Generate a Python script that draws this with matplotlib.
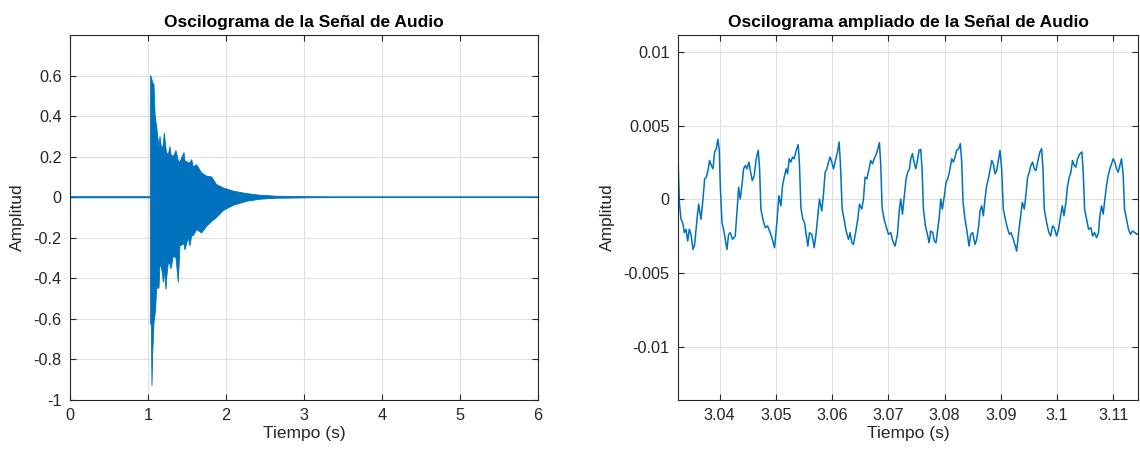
import numpy as np
import matplotlib
matplotlib.use("Agg")
import matplotlib.pyplot as plt

plt.rcParams['font.family'] = ['Liberation Sans', 'DejaVu Sans']
plt.rcParams['axes.unicode_minus'] = False

# ---------------- data: full recording (envelope of waveform) ----------------
env_t = [0.0, 1.030, 1.034, 1.043, 1.051, 1.060, 1.077, 1.090, 1.098, 1.111, 1.124,
         1.141, 1.154, 1.175, 1.197, 1.209, 1.231, 1.239, 1.261, 1.282, 1.295,
         1.325, 1.359, 1.389, 1.410, 1.462, 1.474, 1.517, 1.538, 1.560, 1.581,
         1.624, 1.688, 1.752, 1.816, 1.880, 1.966, 2.094, 2.265, 2.436, 2.650,
         3.077, 3.291, 6.0]
env_upper = [0.003, 0.003, 0.60, 0.59, 0.58, 0.565, 0.556, 0.416, 0.38, 0.35, 0.30,
             0.25, 0.30, 0.235, 0.26, 0.317, 0.24, 0.22, 0.21, 0.25, 0.21,
             0.20, 0.23, 0.18, 0.175, 0.22, 0.18, 0.17, 0.17, 0.186, 0.15,
             0.16, 0.12, 0.104, 0.10, 0.062, 0.046, 0.03, 0.018, 0.01, 0.005,
             0.003, 0.002, 0.002]
env_lower = [-0.003, -0.003, -0.62, -0.637, -0.93, -0.776, -0.62, -0.58, -0.554, -0.44, -0.45,
             -0.447, -0.33, -0.35, -0.42, -0.36, -0.456, -0.40, -0.324, -0.33, -0.354,
             -0.29, -0.30, -0.42, -0.24, -0.23, -0.26, -0.20, -0.24, -0.19, -0.19,
             -0.16, -0.176, -0.143, -0.12, -0.10, -0.065, -0.04, -0.02, -0.01, -0.005,
             -0.003, -0.002, -0.002]

# ---------------- data: zoomed segment ----------------
zoom_t = [3.03260, 3.03284, 3.03313, 3.03343, 3.03373, 3.03402, 3.03432, 3.03461, 3.03491, 3.03526,
          3.03556, 3.03598, 3.03627, 3.03669, 3.03704, 3.03734, 3.03763, 3.03793, 3.03822, 3.03852,
          3.03882, 3.03911, 3.03941, 3.03970, 3.03994, 3.04012, 3.04042, 3.04071, 3.04101, 3.04130,
          3.04160, 3.04190, 3.04231, 3.04278, 3.04308, 3.04338, 3.04367, 3.04397, 3.04426, 3.04456,
          3.04486, 3.04521, 3.04551, 3.04580, 3.04616, 3.04651, 3.04687, 3.04711, 3.04734, 3.04770,
          3.04811, 3.04853, 3.04888, 3.04930, 3.04977, 3.05018, 3.05054, 3.05090, 3.05119, 3.05155,
          3.05184, 3.05208, 3.05238, 3.05267, 3.05297, 3.05326, 3.05362, 3.05397, 3.05421, 3.05445,
          3.05480, 3.05510, 3.05539, 3.05569, 3.05599, 3.05640, 3.05682, 3.05717, 3.05747, 3.05776,
          3.05818, 3.05847, 3.05877, 3.05907, 3.05936, 3.05966, 3.05995, 3.06025, 3.06060, 3.06096,
          3.06126, 3.06149, 3.06179, 3.06214, 3.06250, 3.06291, 3.06321, 3.06351, 3.06380, 3.06428,
          3.06457, 3.06487, 3.06528, 3.06558, 3.06587, 3.06617, 3.06658, 3.06688, 3.06718, 3.06747,
          3.06777, 3.06807, 3.06842, 3.06866, 3.06889, 3.06925, 3.06960, 3.07002, 3.07043, 3.07079,
          3.07120, 3.07162, 3.07197, 3.07221, 3.07251, 3.07286, 3.07316, 3.07345,
          3.07375, 3.07399, 3.07429, 3.07458, 3.07488, 3.07518, 3.07547, 3.07577, 3.07600, 3.07624,
          3.07660, 3.07695, 3.07725, 3.07754, 3.07790, 3.07819, 3.07849, 3.07879, 3.07908, 3.07932,
          3.07961, 3.07997, 3.08027, 3.08056, 3.08086, 3.08127, 3.08157, 3.08187, 3.08216, 3.08252,
          3.08281, 3.08305, 3.08329, 3.08364, 3.08394, 3.08435, 3.08465, 3.08500, 3.08542, 3.08571,
          3.08607, 3.08631, 3.08660, 3.08690, 3.08719, 3.08749, 3.08779, 3.08808, 3.08838, 3.08867,
          3.08897, 3.08927, 3.08956, 3.08986, 3.09015, 3.09045, 3.09081, 3.09116, 3.09152, 3.09181,
          3.09223, 3.09258, 3.09282, 3.09317, 3.09353, 3.09383, 3.09418, 3.09448, 3.09477, 3.09507,
          3.09536, 3.09566, 3.09596, 3.09625, 3.09661, 3.09696, 3.09726, 3.09750, 3.09773, 3.09815,
          3.09856, 3.09886, 3.09921, 3.09951, 3.09992, 3.10028, 3.10063, 3.10093, 3.10123, 3.10158,
          3.10188, 3.10217, 3.10247, 3.10276, 3.10306, 3.10336, 3.10365, 3.10407, 3.10442, 3.10466,
          3.10490, 3.10525, 3.10561, 3.10602, 3.10632, 3.10667, 3.10703, 3.10738, 3.10762, 3.10792,
          3.10821, 3.10851, 3.10880, 3.10910, 3.10940, 3.10969, 3.10999, 3.11028, 3.11058, 3.11088,
          3.11117, 3.11147, 3.11177, 3.11200, 3.11236, 3.11271, 3.11307, 3.11342, 3.11384, 3.11425,
          3.11461]
zoom_amp_mV = [2.877, -0.205, -1.347, -1.575, -2.260, -2.032, -2.831, -2.032, -2.374, -3.402,
               -3.059, -1.347, -0.320, -1.347, 0.023, 1.393, 1.507, 1.963, 2.648, 2.306,
               2.078, 3.219, 3.447, 4.087, 3.333, 0.936, -1.575, -2.032, -2.717, -3.402,
               -2.374, -2.260, -2.717, -2.489, -0.890, 0.822, 0.023, 0.936, 2.078, 2.306,
               2.078, 2.534, 1.849, 1.279, 1.621, 2.763, 3.333, 2.078, -0.662, -1.347,
               -1.918, -1.804, -2.146, -2.603, -3.288, -1.575, 0.251, -0.434, 0.936, 1.621,
               2.078, 1.735, 2.763, 2.534, 2.877, 2.763, 3.333, 3.721, 2.306, -0.548,
               -1.347, -1.575, -2.374, -3.174, -2.260, -2.374, -3.288, -2.260, -1.119, 0.023,
               -0.776, 0.365, 1.849, 2.078, 2.534, 2.877, 2.534, 2.078, 2.648, 3.219,
               3.904, 2.306, -0.662, -1.347, -2.146, -2.717, -2.260, -2.945, -3.059, -2.032,
               -1.347, -0.320, -0.662, 0.023, 1.507, 1.393, 2.078, 2.648, 2.420, 2.763,
               2.991, 3.333, 3.858, 2.306, -0.548, -1.347, -1.804, -2.374, -2.260, -2.831,
               -3.174, -2.374, -0.662, 0.023, -1.005, 0.251, 1.393, 1.849,
               2.078, 2.763, 3.105, 2.534, 2.078, 2.648, 3.333, 3.402, 2.078, -0.662,
               -1.804, -2.374, -2.945, -2.146, -2.260, -2.831, -2.945, -2.032, -1.119, 0.023,
               -0.662, 0.251, 1.164, 1.393, 1.849, 2.763, 2.534, 2.877, 3.333, 3.447,
               3.790, 2.534, -0.205, -1.347, -2.032, -3.174, -2.374, -2.260, -3.059, -2.717,
               -1.804, -0.776, -0.434, -1.119, 0.023, 0.936, 1.393, 1.963, 2.648, 2.420,
               1.735, 1.963, 2.648, 3.333, 2.078, -0.662, -1.347, -1.918, -2.374, -2.260,
               -2.717, -3.174, -3.516, -2.260, -1.119, -0.205, -0.662, 0.365, 1.507, 1.849,
               2.306, 2.534, 2.078, 1.963, 2.648, 3.219, 3.447, 2.078, -0.662, -1.575,
               -2.260, -2.489, -1.804, -1.918, -2.489, -2.032, -1.119, -0.434, -1.119, -0.205,
               0.936, 1.507, 1.849, 2.648, 2.306, 2.192, 2.763, 3.105, 3.219, 1.849,
               -0.662, -1.347, -2.032, -1.918, -2.489, -2.260, -2.603, -2.260, -1.119, -0.434,
               -1.005, 0.023, 0.936, 1.621, 2.078, 2.420, 2.763, 2.534, 2.078, 1.849,
               2.306, 2.763, 1.621, -0.662, -1.347, -2.032, -2.374, -2.146, -2.260, -2.374,
               -2.260]

left_xticks = [0, 1, 2, 3, 4, 5, 6]
left_yticks = [-1, -0.8, -0.6, -0.4, -0.2, 0, 0.2, 0.4, 0.6]
right_xticks = [3.04, 3.05, 3.06, 3.07, 3.08, 3.09, 3.10, 3.11]
right_xlabels = ['3.04', '3.05', '3.06', '3.07', '3.08', '3.09', '3.1', '3.11']
right_yticks = [-0.01, -0.005, 0, 0.005, 0.01]
right_ylabels = ['-0.01', '-0.005', '0', '0.005', '0.01']

title_left = 'Oscilograma de la Señal de Audio'
title_right = 'Oscilograma ampliado de la Señal de Audio'
xlabel = 'Tiempo (s)'
ylabel = 'Amplitud'

# ---------------- drawing ----------------
BLUE = '#0072BD'
AXC = '#262626'
W, H = 1140, 455
fig = plt.figure(figsize=(W / 100, H / 100), dpi=100)
ax1 = fig.add_axes([70 / W, 55 / H, 468 / W, 365 / H])
ax2 = fig.add_axes([678 / W, 55 / H, 460 / W, 365 / H])


def style(ax):
    ax.grid(True, color='#dfdfdf', linewidth=0.8)
    ax.set_axisbelow(True)
    for s in ax.spines.values():
        s.set_color(AXC)
        s.set_linewidth(0.8)
    ax.tick_params(direction='in', length=4, width=0.8, color=AXC, labelcolor=AXC,
                   labelsize=11.7, top=True, right=True, pad=6)
    ax.set_xlabel(xlabel, fontsize=12.5, color=AXC, labelpad=2)
    ax.set_ylabel(ylabel, fontsize=12.5, color=AXC, labelpad=6)


t = np.array(env_t)
ax1.fill(np.concatenate([t, t[::-1]]),
         np.concatenate([np.array(env_upper), np.array(env_lower)[::-1]]),
         color=BLUE, linewidth=0.6, edgecolor=BLUE)
ax1.set_xlim(0, 6)
ax1.set_ylim(-1, 0.8)
ax1.set_xticks(left_xticks)
ax1.set_xticklabels([str(v) for v in left_xticks])
ax1.set_yticks(left_yticks)
ax1.set_yticklabels(['-1', '-0.8', '-0.6', '-0.4', '-0.2', '0', '0.2', '0.4', '0.6'])
style(ax1)
ax1.set_title(title_left, fontsize=12.5, fontweight='bold', pad=6)

ax2.plot(zoom_t, np.array(zoom_amp_mV) / 1000.0, color=BLUE, linewidth=1.1)
ax2.set_xlim(3.0326, 3.1144)
ax2.set_ylim(-0.01363, 0.01117)
ax2.set_xticks(right_xticks)
ax2.set_xticklabels(right_xlabels)
ax2.set_yticks(right_yticks)
ax2.set_yticklabels(right_ylabels)
style(ax2)
ax2.set_title(title_right, fontsize=12.5, fontweight='bold', pad=6)

fig.savefig('out.png', dpi=100)
